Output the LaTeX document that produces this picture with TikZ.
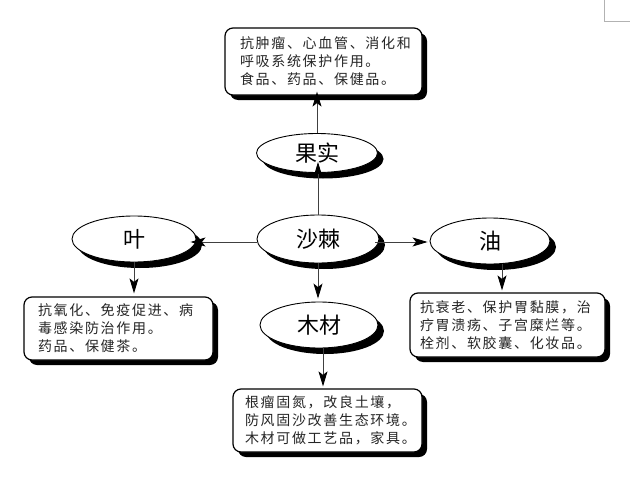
\documentclass[tikz,border=0pt]{standalone}
\usepackage{fontspec}
\setmainfont{Liberation Sans}
\newfontfamily\cjk[LetterSpace=12]{Noto Sans CJK SC}
\newfontfamily\cjkbig{Noto Sans CJK SC}
\usetikzlibrary{shapes.geometric,shadows,arrows.meta}
\begin{document}
\begin{tikzpicture}[x=1pt,y=-1pt,
  ell/.style={ellipse,draw,fill=white,line width=0.9pt,inner sep=0pt,
    font=\cjkbig\fontsize{22}{24}\selectfont,
    drop shadow={shadow xshift=6pt,shadow yshift=-6pt,opacity=1,fill=black}},
  infobox/.style={rectangle,rounded corners=8pt,draw,fill=white,line width=1.2pt,
    align=left,font=\cjk\fontsize{14}{18}\selectfont,inner ysep=0pt,text=black!85,
    drop shadow={shadow xshift=5pt,shadow yshift=-5pt,opacity=1,fill=black}},
  arr/.style={-{Stealth[length=15pt,width=9pt,inset=3.5pt,color=black]},draw=black!75,line width=0.9pt}]
\useasboundingbox (0,0) rectangle (640,487);
\fill[white] (0,0) rectangle (640,487);
% page corner mark
\draw[gray!60,line width=0.8pt] (604,0) -- (604,21) -- (630,21);

% ellipses
\node[ell,minimum width=122pt,minimum height=48pt] (root) at (318,239) {沙棘};
\node[ell,minimum width=121pt,minimum height=39pt] (fruit) at (317,153) {果实};
\node[ell,minimum width=124pt,minimum height=46pt] (leaf) at (134,239) {叶};
\node[ell,minimum width=120pt,minimum height=46pt] (oil) at (490,241) {油};
\node[ell,minimum width=118pt,minimum height=46pt] (wood) at (319,325) {木材};

% boxes
\node[infobox,inner xsep=15pt,text width=167pt,minimum height=67pt] (fbox) at (323.5,61.5)
  {抗肿瘤、心血管、消化和\\呼吸系统保护作用。\\食品、药品、保健品。};
\node[infobox,inner xsep=14pt,text width=161pt,minimum height=63pt] (lbox) at (118.5,328.5)
  {抗氧化、免疫促进、病\\毒感染防治作用。\\药品、保健茶。};
\node[infobox,inner xsep=10pt,text width=175pt,minimum height=64pt] (obox) at (507.5,325)
  {抗衰老、保护胃黏膜，治\\疗胃溃疡、子宫糜烂等。\\栓剂、软胶囊、化妆品。};
\node[infobox,inner xsep=12pt,text width=165pt,minimum height=63pt] (wbox) at (327.5,420.5)
  {根瘤固氮，改良土壤，\\防风固沙改善生态环境。\\木材可做工艺品，家具。};

% connectors
\draw[arr,shorten >=-11pt] (root.north) -- (root.north |- fruit.south);
\draw[arr,shorten >=-4pt] (fruit.north) -- (fruit.north |- fbox.south);
\draw[arr,shorten >=-6pt] ([yshift=-3pt]root.west) -- ([yshift=-3pt]root.west -| leaf.east);
\draw[arr,shorten <=-4pt,shorten >=2pt] ([yshift=-3pt]root.east) -- ([yshift=-3pt]root.east -| oil.west);
\draw[arr,shorten >=3pt] (leaf.south) -- (leaf.south |- lbox.north);
\draw[arr,shorten >=2pt] ([xshift=12pt]oil.south) -- ([xshift=12pt]oil.south |- obox.north);
\draw[arr,shorten >=3pt] (root.south) -- (root.south |- wood.north);
\draw[arr,shorten >=2pt] ([xshift=4pt]wood.south) -- ([xshift=4pt]wood.south |- wbox.north);
\end{tikzpicture}
\end{document}
